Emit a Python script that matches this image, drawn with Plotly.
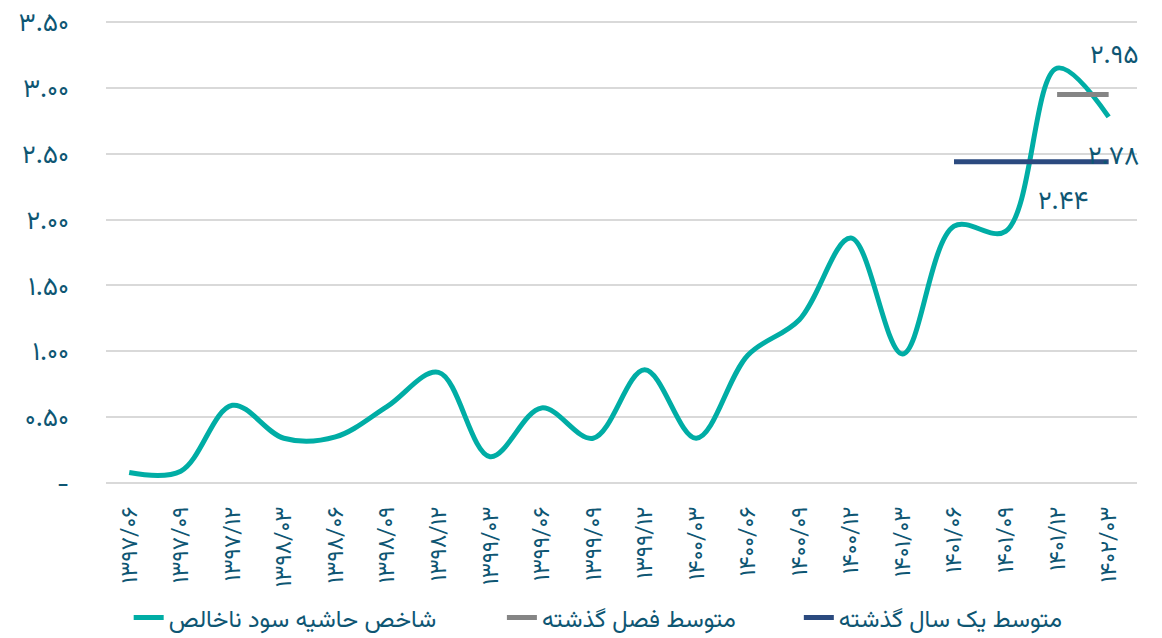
import plotly.graph_objects as go

categories = ["۱۳۹۷/۰۶", "۱۳۹۷/۰۹", "۱۳۹۷/۱۲", "۱۳۹۸/۰۳", "۱۳۹۸/۰۶", "۱۳۹۸/۰۹", "۱۳۹۸/۱۲",
              "۱۳۹۹/۰۳", "۱۳۹۹/۰۶", "۱۳۹۹/۰۹", "۱۳۹۹/۱۲", "۱۴۰۰/۰۳", "۱۴۰۰/۰۶", "۱۴۰۰/۰۹",
              "۱۴۰۰/۱۲", "۱۴۰۱/۰۳", "۱۴۰۱/۰۶", "۱۴۰۱/۰۹", "۱۴۰۱/۱۲", "۱۴۰۲/۰۳"]
margin_index = [0.08, 0.09, 0.59, 0.34, 0.35, 0.58, 0.84, 0.20, 0.57, 0.34, 0.86, 0.34,
                0.97, 1.24, 1.86, 0.98, 1.95, 1.91, 3.15, 2.78]
quarter_avg_x = ["۱۴۰۱/۱۲", "۱۴۰۲/۰۳"]
quarter_avg = [2.95, 2.95]
year_avg_x = ["۱۴۰۱/۰۶", "۱۴۰۱/۰۹", "۱۴۰۱/۱۲", "۱۴۰۲/۰۳"]
year_avg = [2.44, 2.44, 2.44, 2.44]
tick_vals = [0, 0.5, 1.0, 1.5, 2.0, 2.5, 3.0, 3.5]
tick_text = ["-", "۰.۵۰", "۱.۰۰", "۱.۵۰", "۲.۰۰", "۲.۵۰", "۳.۰۰", "۳.۵۰"]
names = ["شاخص حاشیه سود ناخالص", "متوسط فصل گذشته", "متوسط یک سال گذشته"]

FONT = "Vazirmatn, 'Noto Sans Arabic', 'DejaVu Sans', sans-serif"
TEXT = "#0E5673"

fig = go.Figure()
fig.add_trace(go.Scatter(x=categories, y=margin_index, mode="lines", name=names[0], legend="legend",
                         line=dict(color="#00ADA5", width=5, shape="spline", smoothing=1.0)))
fig.add_trace(go.Scatter(x=quarter_avg_x, y=quarter_avg, mode="lines", name=names[1], legend="legend2",
                         line=dict(color="#858585", width=5)))
fig.add_trace(go.Scatter(x=year_avg_x, y=year_avg, mode="lines", name=names[2], legend="legend3",
                         line=dict(color="#2B4A7F", width=5)))

ann_font = dict(size=26, color=TEXT, family=FONT)
fig.add_annotation(x="۱۴۰۲/۰۳", y=3.24, text="۲.۹۵", showarrow=False, xshift=6, font=ann_font)
fig.add_annotation(x="۱۴۰۲/۰۳", y=2.47, text="۲.۷۸", showarrow=False, xshift=5, font=ann_font)
fig.add_annotation(x="۱۴۰۱/۰۹", y=2.13, text="۲.۴۴", showarrow=False, xshift=57, font=ann_font)

leg_common = dict(orientation="h", yanchor="middle", y=-0.292, xanchor="left",
                  font=dict(size=24, color=TEXT, family=FONT), bgcolor="rgba(0,0,0,0)")
fig.update_layout(
    width=1154, height=630,
    plot_bgcolor="white", paper_bgcolor="white",
    margin=dict(l=98, r=25, t=13, b=155, autoexpand=False),
    font=dict(family=FONT, color=TEXT),
    showlegend=True,
    legend=dict(x=0.022, **leg_common),
    legend2=dict(x=0.384, **leg_common),
    legend3=dict(x=0.672, **leg_common),
)
fig.update_xaxes(type="category", tickangle=-90, tickfont=dict(size=23, color=TEXT, family=FONT),
                 showgrid=False, showline=False, ticks="", range=[-0.45, 19.55], automargin=False,
                 ticklabelstandoff=18)
fig.update_yaxes(range=[0, 3.508], tickvals=tick_vals, ticktext=tick_text,
                 tickfont=dict(size=26, color=TEXT, family=FONT), ticklabeloverflow="allow",
                 gridcolor="#D9D9D9", gridwidth=1.5, zeroline=True, zerolinecolor="#D9D9D9",
                 zerolinewidth=1.5, showline=False, ticks="", ticklabelstandoff=36, automargin=False)

fig.write_html("out.html")
